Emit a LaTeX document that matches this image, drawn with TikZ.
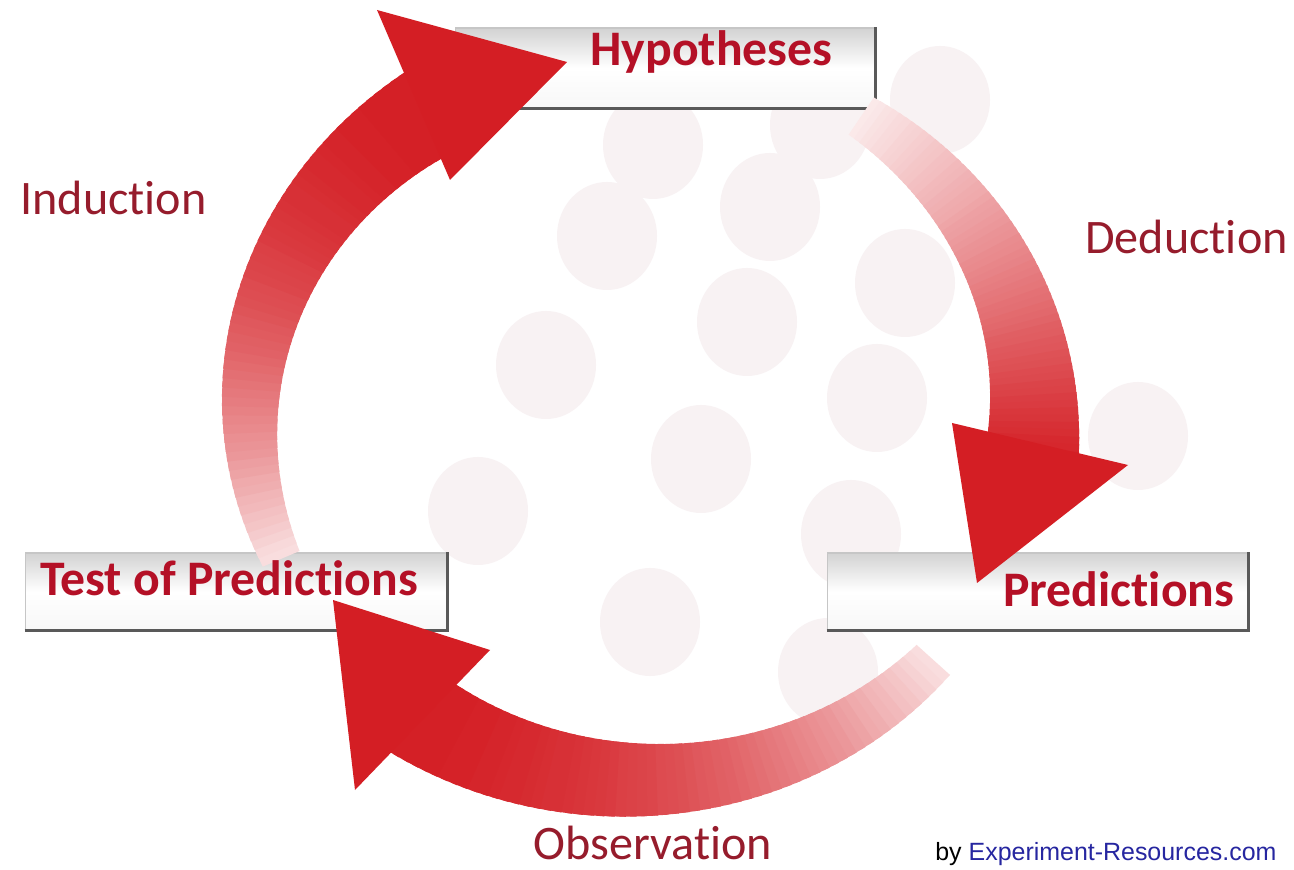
\documentclass[tikz,border=0pt]{standalone}
\usepackage{fontspec}
\setmainfont{Carlito}[Ligatures=NoCommon]
\newfontfamily\linkfont{Liberation Sans}
\usetikzlibrary{positioning}

\definecolor{arrowred}{RGB}{212,30,36}
\definecolor{labelred}{RGB}{150,28,44}
\definecolor{titlered}{RGB}{180,16,38}
\definecolor{dotpink}{RGB}{248,242,243}
\definecolor{linkblue}{RGB}{38,38,160}

% centre and radii of the cycle (picture units)
\def\cx{642}\def\cy{452}\def\rx{392}\def\ry{363}

% \cycshaft{from angle}{to angle}{start width}{end width}{start tint}{fade power}
\newcommand{\cycshaft}[6]{%
  \foreach \i in {0,...,59}{%
    \pgfmathsetmacro\ta{#1+(#2-#1)*\i/60}
    \pgfmathsetmacro\tb{#1+(#2-#1)*(\i+1.6)/60}
    \pgfmathsetmacro\wa{(#3+(#4-#3)*\i/60)/2}
    \pgfmathsetmacro\wb{(#3+(#4-#3)*(\i+1)/60)/2}
    \pgfmathtruncatemacro\tint{100-(100-#5)*(1-\i/59)^#6}
    \fill[arrowred!\tint!white]
      ({\cx+(\rx+\wa)*cos(\ta)},{\cy+(\ry+\wa)*sin(\ta)}) --
      ({\cx+(\rx+\wb)*cos(\tb)},{\cy+(\ry+\wb)*sin(\tb)}) --
      ({\cx+(\rx-\wb)*cos(\tb)},{\cy+(\ry-\wb)*sin(\tb)}) --
      ({\cx+(\rx-\wa)*cos(\ta)},{\cy+(\ry-\wa)*sin(\ta)}) -- cycle;
  }%
}

\begin{document}
\begin{tikzpicture}[
  x=0.02cm, y=0.02cm,
  box/.style={rectangle, draw=gray!45, line width=0.6pt, inner sep=0pt,
    top color=gray!35, bottom color=gray!6, middle color=white},
  shadowline/.style={draw=black!65, line width=2.2pt},
  title/.style={anchor=base west, inner sep=0pt, text=titlered,
    font=\fontsize{28.3}{30}\selectfont\bfseries},
  phase/.style={anchor=base west, inner sep=0pt, text=labelred,
    font=\fontsize{27.4}{30}\selectfont},
  head/.style={fill=arrowred},
]

\clip (0,0) rectangle (1294,869);
\fill[white] (0,0) rectangle (1294,869);

% === Backdrop dots ===
\foreach \x/\y in {653/724, 820/744, 940/769, 607/633, 770/662, 905/586,
                   747/547, 546/504, 877/471, 701/410, 1138/433, 478/358,
                   851/335, 650/247, 828/197}
  \fill[dotpink] (\x,\y) ellipse (50 and 54);

% === Boxes ===
\node[box, minimum width=8.4cm, minimum height=1.6cm] (hyp) at (665,801) {};
\node[box, minimum width=8.44cm, minimum height=1.54cm] (test) at (236,277.5) {};
\node[box, minimum width=8.42cm, minimum height=1.54cm] (pred) at (1037.5,277.5) {};

\draw[shadowline] (hyp.south west) -- (hyp.south east) -- (hyp.north east);
\draw[shadowline] (test.south west) -- (test.south east) -- (test.north east);
\draw[shadowline] (pred.south west) -- (pred.south east) -- (pred.north east);

% === Arrows of the cycle ===
% induction: test of predictions -> hypotheses
\cycshaft{203}{121}{40}{95}{15}{2}
\coordinate (indtip) at (567,807);
\fill[head] (indtip) -- (377,859) -- (450,689) -- cycle;

% deduction: hypotheses -> predictions
\cycshaft{56}{-7}{45}{95}{10}{1}
\coordinate (dedtip) at (977,286);
\fill[head] (dedtip) -- (952,446) -- (1128,404) -- cycle;

% observation: predictions -> test of predictions
\cycshaft{-42}{-128}{45}{95}{15}{2}
\coordinate (obstip) at (333,269);
\fill[head] (obstip) -- (490,219) -- (355,79) -- cycle;

% === Labels ===
\node[title] (hyptext) at (590,803) {Hypotheses};
\node[title] (predtext) at (1003,262) {Predictions};
\node[title] (testtext) at (40,274) {Test of Predictions};

\node[phase] (induct) at (20,654) {Induction};
\node[phase] (deduct) at (1085,615) {Deduction};
\node[phase] (observ) at (533,10) {Observation};

\node[anchor=base west, inner sep=0pt, font=\linkfont\fontsize{14.2}{16}\selectfont]
  (credit) at (935,9) {by \textcolor{linkblue}{Experiment-Resources.com}};

\end{tikzpicture}
\end{document}
